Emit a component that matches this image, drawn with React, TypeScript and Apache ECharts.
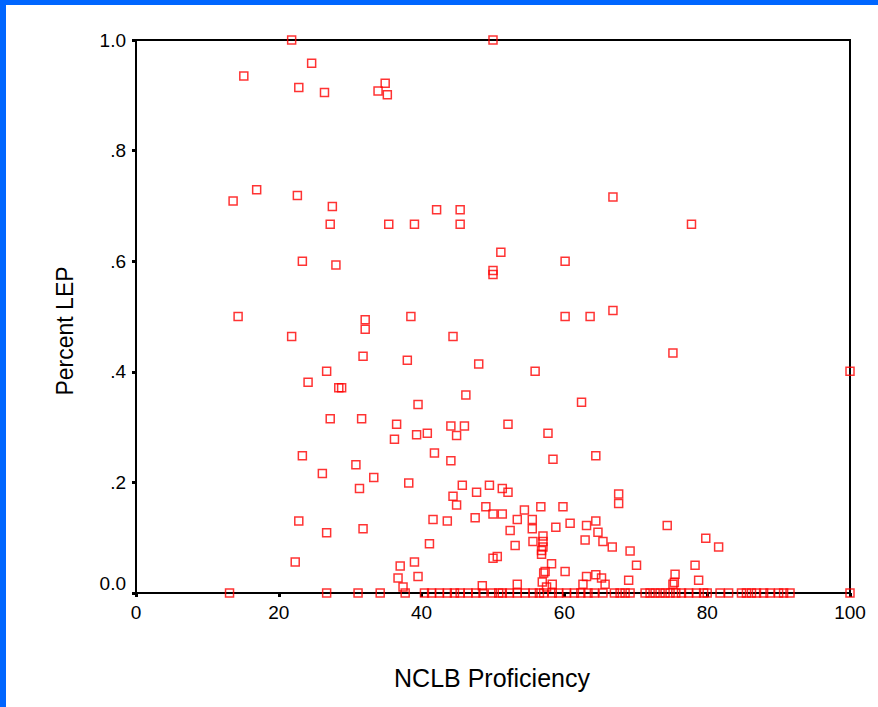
import React, { useEffect, useRef } from "react";
import * as echarts from "echarts";

// NCLB proficiency (x) and percent LEP (y) for schools with non-zero LEP
const proficiency: number[] = [
  21.8, 50.0, 24.6, 15.1, 34.9, 22.8, 33.9, 26.4, 35.2, 16.9,
  22.6, 66.8, 13.6, 27.5, 42.1, 45.4, 27.2, 35.4, 39.0, 45.4,
  77.8, 51.1, 23.3, 60.1, 28.0, 50.0, 50.0, 66.8, 14.3, 38.5,
  60.1, 63.6, 32.1, 32.1, 21.8, 44.4, 75.2, 31.8, 38.0, 48.0,
  26.7, 55.9, 100, 24.1, 28.4, 28.8, 46.2, 62.4, 39.5, 27.2,
  31.6, 36.5, 52.1, 44.1, 46.0, 40.8, 57.7, 39.3, 44.9, 36.2,
  41.8, 23.3, 64.4, 58.4, 44.1, 30.8, 26.1, 33.3, 38.2, 45.7,
  49.5, 31.3, 51.3, 47.7, 52.1, 67.6, 44.4, 67.6, 44.9, 49.0,
  56.7, 59.8, 54.4, 50.0, 51.3, 47.5, 41.6, 53.4, 55.5, 22.8,
  43.6, 64.4, 60.8, 63.1, 74.4, 58.8, 31.8, 55.5, 52.4, 64.7,
  26.7, 57.0, 79.8, 62.9, 55.6, 57.0, 65.4, 41.1, 53.1, 57.0,
  66.7, 81.6, 56.8, 69.2, 56.8, 50.6, 50.0, 22.3, 39.0, 58.2,
  70.1, 78.3, 37.0, 57.3, 60.1, 57.1, 75.5, 64.4, 39.5, 63.1,
  36.7, 65.2, 69.0, 78.8, 56.9, 75.4, 75.2, 58.3, 53.4, 62.6,
  65.7, 48.5, 37.4, 57.5,
];

const percentLEP: number[] = [
  1.0, 1.0, 0.958, 0.935, 0.922, 0.914, 0.908, 0.905, 0.901, 0.729,
  0.719, 0.716, 0.709, 0.699, 0.693, 0.693, 0.667, 0.667, 0.667, 0.667,
  0.667, 0.616, 0.6, 0.6, 0.593, 0.583, 0.576, 0.511, 0.5, 0.5,
  0.5, 0.5, 0.494, 0.477, 0.464, 0.464, 0.434, 0.428, 0.421, 0.414,
  0.401, 0.401, 0.401, 0.381, 0.371, 0.371, 0.358, 0.345, 0.341, 0.315,
  0.315, 0.305, 0.305, 0.302, 0.302, 0.289, 0.289, 0.286, 0.285, 0.278,
  0.253, 0.248, 0.248, 0.242, 0.239, 0.232, 0.216, 0.209, 0.199, 0.195,
  0.195, 0.189, 0.189, 0.182, 0.182, 0.179, 0.175, 0.162, 0.159, 0.156,
  0.156, 0.156, 0.15, 0.143, 0.143, 0.136, 0.133, 0.133, 0.133, 0.13,
  0.13, 0.13, 0.126, 0.122, 0.122, 0.119, 0.116, 0.116, 0.113, 0.11,
  0.109, 0.103, 0.099, 0.096, 0.093, 0.093, 0.093, 0.089, 0.086, 0.083,
  0.083, 0.083, 0.077, 0.076, 0.07, 0.066, 0.063, 0.056, 0.056, 0.053,
  0.05, 0.05, 0.049, 0.039, 0.039, 0.036, 0.034, 0.033, 0.03, 0.03,
  0.027, 0.027, 0.023, 0.023, 0.02, 0.019, 0.016, 0.016, 0.016, 0.016,
  0.016, 0.013, 0.011, 0.011,
];

// NCLB proficiency of schools with 0 percent LEP
const zeroLEPProficiency: number[] = [
  13.1, 26.7, 31.1, 34.2, 37.7, 40.4, 41.4, 42.5, 43.6, 44.6,
  45.4, 46.5, 47.6, 48.6, 49.9, 50.8, 51.3, 52.3, 53.4, 54.5,
  55.6, 56.5, 57.1, 58.3, 59.2, 60.3, 61.4, 62.3, 63.3, 64.2,
  65.4, 67.0, 67.8, 68.5, 69.2, 71.3, 72.0, 72.7, 73.4, 74.1,
  74.8, 75.6, 76.4, 77.4, 78.5, 79.5, 80.0, 81.8, 83.0, 84.8,
  85.5, 86.2, 86.9, 87.9, 88.8, 90.0, 90.7, 91.6, 100,
];

const xTicks = [0, 20, 40, 60, 80, 100];
const yTicks = [0, 0.2, 0.4, 0.6, 0.8, 1.0];
const xTitle = "NCLB Proficiency";
const yTitle = "Percent LEP";

const FONT = "'Liberation Sans', Arial, sans-serif";

export default function App() {
  const ref = useRef<HTMLDivElement>(null);

  useEffect(() => {
    if (!ref.current) return;
    const chart = echarts.init(ref.current, undefined, { renderer: "svg" });

    const points: number[][] = proficiency.map((x, i) => [x, percentLEP[i]]);
    zeroLEPProficiency.forEach((x) => points.push([x, 0]));

    chart.setOption({
      animation: false,
      backgroundColor: "#ffffff",
      graphic: [
        { type: "rect", left: 0, top: 0, shape: { width: 878, height: 5 }, style: { fill: "#0066ff" }, z: 100 },
        { type: "rect", left: 0, top: 0, shape: { width: 6, height: 707 }, style: { fill: "#0066ff" }, z: 100 },
        {
          type: "text",
          x: 492,
          y: 678,
          style: {
            text: xTitle,
            fontFamily: FONT,
            fontSize: 25,
            fill: "#000",
            align: "center",
            verticalAlign: "middle",
          },
        },
        {
          type: "text",
          x: 65,
          y: 331,
          rotation: Math.PI / 2,
          style: {
            text: yTitle,
            fontFamily: FONT,
            fontSize: 23,
            fill: "#000",
            align: "center",
            verticalAlign: "middle",
          },
        },
      ],
      grid: {
        left: 136,
        right: 28,
        top: 40,
        bottom: 114,
        show: true,
        borderColor: "#000",
        borderWidth: 2,
        backgroundColor: "transparent",
      },
      xAxis: {
        type: "value",
        min: xTicks[0],
        max: xTicks[xTicks.length - 1],
        interval: 20,
        axisLine: { show: true, onZero: false, lineStyle: { color: "#000", width: 2 } },
        axisTick: { show: true, length: 4, lineStyle: { color: "#000", width: 3 } },
        axisLabel: { fontFamily: FONT, fontSize: 19, color: "#000", margin: 10 },
        splitLine: { show: false },
      },
      yAxis: {
        type: "value",
        min: yTicks[0],
        max: yTicks[yTicks.length - 1],
        interval: 0.2,
        axisLine: { show: true, onZero: false, lineStyle: { color: "#000", width: 2 } },
        axisTick: { show: true, length: 4, lineStyle: { color: "#000", width: 3 } },
        axisLabel: {
          fontFamily: FONT,
          fontSize: 19,
          color: "#000",
          margin: 10,
          verticalAlignMinLabel: "bottom",
          formatter: (v: number) => {
            const r = Math.round(v * 10);
            if (r === 0) return "0.0";
            if (r === 10) return "1.0";
            return "." + r;
          },
        },
        splitLine: { show: false },
      },
      series: [
        {
          type: "scatter",
          data: points,
          symbol: "rect",
          symbolSize: 8,
          clip: false,
          itemStyle: { color: "rgba(0,0,0,0)", borderColor: "#ff0000", borderWidth: 1.5 },
          z: 5,
        },
      ],
    });

    return () => chart.dispose();
  }, []);

  return (
    <div
      ref={ref}
      style={{ position: "fixed", left: 0, top: 0, width: 878, height: 707 }}
    />
  );
}
